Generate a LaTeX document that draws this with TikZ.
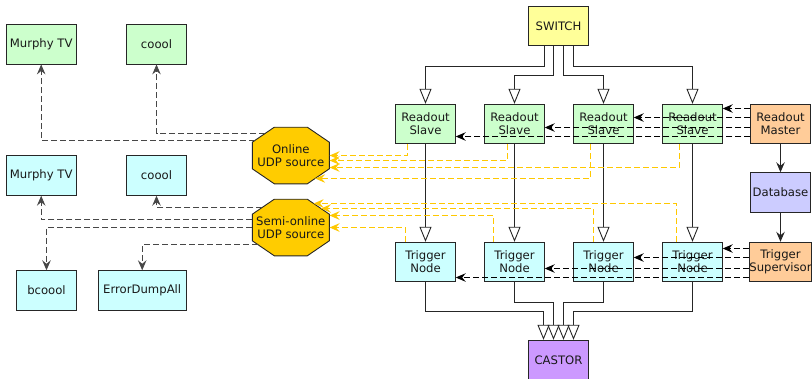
\documentclass[tikz,border=0pt]{standalone}
\usepackage{fontspec}
\setmainfont{DejaVu Sans}
\usetikzlibrary{arrows.meta,calc}

\definecolor{cSwitch}{HTML}{FFFF99}
\definecolor{cGreen}{HTML}{CCFFCC}
\definecolor{cCyan}{HTML}{CCFFFF}
\definecolor{cOrange}{HTML}{FFCC99}
\definecolor{cBlue}{HTML}{CCCCFF}
\definecolor{cPurple}{HTML}{CC99FF}
\definecolor{cGold}{HTML}{FFCC00}
\definecolor{cUdp}{HTML}{FFC800}
\definecolor{cEdge}{HTML}{262626}

% octagon outline around a centre coordinate
\newcommand\octagonat[1]{%
  \filldraw[draw=cEdge,line width=0.9bp,fill=cGold]
    ($(#1)+(-16.5,-28.3)$) -- ($(#1)+(16.5,-28.3)$) -- ($(#1)+(38.5,-13.3)$) --
    ($(#1)+(38.5,13.3)$) -- ($(#1)+(16.5,28.3)$) -- ($(#1)+(-16.5,28.3)$) --
    ($(#1)+(-38.5,13.3)$) -- ($(#1)+(-38.5,-13.3)$) -- cycle;}

\begin{document}
\begin{tikzpicture}[x=1bp,y=-1bp,
  every node/.style={font=\fontsize{11.7}{13.3}\selectfont,align=center,inner sep=0pt,text=black!90},
  box/.style={draw=cEdge,line width=0.9bp,minimum width=59.5bp,minimum height=39.5bp},
  octnode/.style={minimum width=77bp,minimum height=56.6bp},
  tip/.style={-{Stealth[length=10bp,width=8.5bp,inset=3.5bp]}},
  feed/.style={draw=cEdge,line width=0.9bp,-{Triangle[open,length=15bp,width=12bp]}},
  ctl/.style={tip,draw=black,line width=1bp,dash pattern=on 6bp off 3bp},
  solidarr/.style={tip,draw=cEdge,line width=1bp},
  mon/.style={tip,draw=black!72,line width=1bp,dash pattern=on 6bp off 3bp},
  udp/.style={tip,draw=cUdp,line width=1.4bp,dash pattern=on 6bp off 3bp}
]
\useasboundingbox (0,0) rectangle (812,378);

% readout chain
\node[box,fill=cSwitch] (sw) at (558.5,26) {SWITCH};
\foreach \i/\x in {1/425.5,2/514.5,3/603.5,4/692.5}{
  \node[box,fill=cGreen] (rs\i) at (\x,124) {Readout\\Slave};
  \node[box,fill=cCyan] (tn\i) at (\x,262) {Trigger\\Node};
}
\node[box,fill=cOrange] (rm) at (780.5,124) {Readout\\Master};
\node[box,fill=cBlue] (db) at (780.5,192.5) {Database};
\node[box,fill=cOrange] (ts) at (780.5,262) {Trigger\\Supervisor};
\node[box,fill=cPurple] (ca) at (558.5,360) {CASTOR};

% monitoring clients
\node[box,fill=cGreen,minimum width=69.7bp] (mtvA) at (41.2,44.2) {Murphy TV};
\node[box,fill=cGreen] (coA) at (156.5,44.2) {coool};
\node[box,fill=cCyan,minimum width=69.7bp] (mtvB) at (41.2,175.5) {Murphy TV};
\node[box,fill=cCyan] (coB) at (156.5,175.5) {coool};
\node[box,fill=cCyan] (bc) at (46.5,290.5) {bcoool};
\node[box,fill=cCyan,minimum width=87.7bp] (ed) at (142.2,290.5) {ErrorDumpAll};

% UDP sources
\coordinate (onc) at (290.8,155.5);
\coordinate (soc) at (290.8,227.5);
\octagonat{onc}
\octagonat{soc}
\node[octnode] (on) at (onc) {Online\\UDP source};
\node[octnode] (so) at (soc) {Semi-online\\UDP source};

% switch to readout slaves
\draw[feed] ($(sw.south)+(-14,0)$) -- ++(0,20) -| (rs1.north);
\draw[feed] ($(sw.south)+(-5,0)$) -- ++(0,29) -| (rs2.north);
\draw[feed] ($(sw.south)+(5,0)$) -- ++(0,29) -| (rs3.north);
\draw[feed] ($(sw.south)+(15,0)$) -- ++(0,20) -| (rs4.north);

% readout slaves to trigger nodes
\foreach \i in {1,2,3,4}{
  \draw[feed] (rs\i.south) -- (tn\i.north);
}

% trigger nodes to CASTOR
\draw[feed] (tn1.south) -- ++(0,29.3) -| ($(ca.north)+(-15,0)$);
\draw[feed] (tn2.south) -- ++(0,20.3) -| ($(ca.north)+(-5,0)$);
\draw[feed] (tn3.south) -- ++(0,20.3) -| ($(ca.north)+(5,0)$);
\draw[feed] (tn4.south) -- ++(0,29.3) -| ($(ca.north)+(15,0)$);

% master / supervisor control
\draw[ctl] ($(rm.west)+(0,-15.5)$) -- ($(rs4.east)+(0,-15.5)$);
\draw[ctl] ($(rm.west)+(0,-6.5)$) -- ($(rs3.east)+(0,-6.5)$);
\draw[ctl] ($(rm.west)+(0,3.5)$) -- ($(rs2.east)+(0,3.5)$);
\draw[ctl] ($(rm.west)+(0,12.5)$) -- ($(rs1.east)+(0,12.5)$);
\draw[ctl] ($(ts.west)+(0,-13.5)$) -- ($(tn4.east)+(0,-13.5)$);
\draw[ctl] ($(ts.west)+(0,-4.5)$) -- ($(tn3.east)+(0,-4.5)$);
\draw[ctl] ($(ts.west)+(0,6.5)$) -- ($(tn2.east)+(0,6.5)$);
\draw[ctl] ($(ts.west)+(0,15.5)$) -- ($(tn1.east)+(0,15.5)$);
\draw[solidarr] (rm.south) -- (db.north);
\draw[solidarr] (db.south) -- (ts.north);

% UDP data from readout slaves
\draw[udp] ($(rs1.south)+(-18,0)$) |- (on.east);
\draw[udp] ($(rs2.south)+(-7,0)$) |- ($(on.east)+(0,5)$);
\draw[udp] ($(rs4.south)+(-13,0)$) |- ($(on.east)+(0,12)$);
\draw[udp] ($(rs3.south)+(-13,0)$) |- ($(on)+(24.3,23)$);

% UDP data from trigger nodes
\draw[udp] ($(tn1.north)+(-20,0)$) |- (so.east);
\draw[udp] ($(tn2.north)+(-21,0)$) |- ($(so.east)+(0,-12)$);
\draw[udp] ($(tn3.north)+(-10,0)$) |- ($(so)+(30.1,-19)$);
\draw[udp] ($(tn4.north)+(-16,0)$) |- ($(so)+(22.8,-24)$);

% sources to monitoring clients
\draw[mon] ($(on)+(-36,-15)$) -| (mtvA.south);
\draw[mon] ($(on)+(-25.7,-22)$) -| (coA.south);
\draw[mon] ($(so)+(-28.5,-20)$) -| (coB.south);
\draw[mon] ($(so)+(-38.5,-8)$) -| (mtvB.south);
\draw[mon] (so.west) -| (bc.north);
\draw[mon] ($(so)+(-33.1,17)$) -| (ed.north);
\end{tikzpicture}
\end{document}
